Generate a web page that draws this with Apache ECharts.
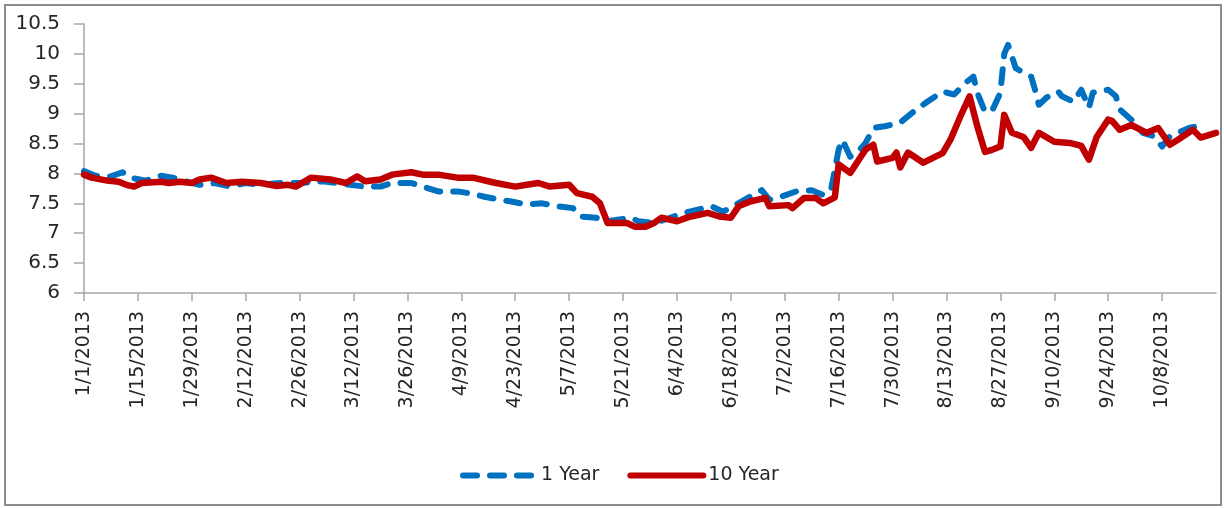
<!DOCTYPE html>
<html><head><meta charset="utf-8">
<script src="https://cdn.jsdelivr.net/npm/echarts@6/dist/echarts.min.js"></script>
<style>html,body{margin:0;padding:0;background:#fff}#c{width:1224px;height:508px}</style>
</head><body><div id="c"></div>
<script>
const startDate = '1/1/2013';
const endDate = '10/22/2013';
const yTicks = { min: 6, max: 10.5, step: 0.5 };

const dates10Y = ['1/1/2013','1/3/2013','1/7/2013','1/10/2013','1/12/2013','1/14/2013','1/16/2013','1/21/2013','1/23/2013','1/26/2013','1/29/2013','1/31/2013','2/3/2013','2/7/2013','2/11/2013','2/16/2013','2/20/2013','2/23/2013','2/25/2013','3/1/2013','3/6/2013','3/10/2013','3/13/2013','3/15/2013','3/19/2013','3/22/2013','3/27/2013','3/30/2013','4/3/2013','4/8/2013','4/12/2013','4/16/2013','4/18/2013','4/23/2013','4/26/2013','4/29/2013','5/2/2013','5/7/2013','5/9/2013','5/13/2013','5/15/2013','5/17/2013','5/22/2013','5/24/2013','5/27/2013','5/29/2013','5/31/2013','6/4/2013','6/7/2013','6/12/2013','6/15/2013','6/18/2013','6/20/2013','6/23/2013','6/27/2013','6/28/2013','7/3/2013','7/4/2013','7/7/2013','7/10/2013','7/12/2013','7/15/2013','7/16/2013','7/19/2013','7/23/2013','7/25/2013','7/26/2013','7/30/2013','7/31/2013','8/1/2013','8/3/2013','8/7/2013','8/12/2013','8/14/2013','8/17/2013','8/19/2013','8/21/2013','8/23/2013','8/25/2013','8/27/2013','8/28/2013','8/30/2013','9/2/2013','9/4/2013','9/6/2013','9/10/2013','9/14/2013','9/17/2013','9/19/2013','9/21/2013','9/24/2013','9/25/2013','9/27/2013','9/30/2013','10/4/2013','10/7/2013','10/10/2013','10/12/2013','10/16/2013','10/18/2013','10/22/2013'];
const values10Y = [7.98,7.93,7.88,7.86,7.81,7.78,7.84,7.86,7.84,7.86,7.84,7.9,7.93,7.84,7.86,7.84,7.79,7.81,7.78,7.93,7.9,7.84,7.95,7.87,7.9,7.98,8.02,7.98,7.98,7.93,7.93,7.87,7.84,7.78,7.81,7.84,7.78,7.81,7.67,7.61,7.5,7.17,7.17,7.11,7.11,7.17,7.26,7.2,7.27,7.34,7.28,7.26,7.45,7.53,7.59,7.45,7.47,7.42,7.59,7.59,7.5,7.6,8.15,8.01,8.4,8.48,8.2,8.26,8.35,8.1,8.35,8.18,8.34,8.56,9.01,9.29,8.79,8.36,8.4,8.45,8.98,8.68,8.61,8.43,8.68,8.53,8.51,8.46,8.23,8.61,8.9,8.88,8.73,8.81,8.68,8.76,8.48,8.56,8.73,8.6,8.68];

const dates1Y = ['1/1/2013','1/4/2013','1/8/2013','1/11/2013','1/13/2013','1/17/2013','1/21/2013','1/24/2013','1/28/2013','1/31/2013','2/4/2013','2/8/2013','2/12/2013','2/16/2013','2/21/2013','2/26/2013','3/4/2013','3/11/2013','3/15/2013','3/19/2013','3/22/2013','3/27/2013','3/31/2013','4/3/2013','4/8/2013','4/11/2013','4/15/2013','4/19/2013','4/22/2013','4/26/2013','4/30/2013','5/4/2013','5/8/2013','5/10/2013','5/14/2013','5/17/2013','5/23/2013','5/25/2013','5/29/2013','6/1/2013','6/6/2013','6/13/2013','6/16/2013','6/26/2013','6/28/2013','7/1/2013','7/5/2013','7/9/2013','7/12/2013','7/14/2013','7/16/2013','7/17/2013','7/19/2013','7/21/2013','7/23/2013','7/25/2013','7/28/2013','8/1/2013','8/4/2013','8/8/2013','8/12/2013','8/15/2013','8/18/2013','8/20/2013','8/21/2013','8/23/2013','8/25/2013','8/27/2013','8/28/2013','8/29/2013','8/31/2013','9/4/2013','9/5/2013','9/6/2013','9/8/2013','9/11/2013','9/12/2013','9/15/2013','9/17/2013','9/19/2013','9/20/2013','9/24/2013','9/26/2013','9/27/2013','9/30/2013','10/3/2013','10/6/2013','10/8/2013','10/10/2013','10/15/2013','10/17/2013','10/18/2013'];
const values1Y = [8.04,7.96,7.95,8.02,7.93,7.88,7.96,7.93,7.86,7.81,7.84,7.78,7.84,7.81,7.84,7.84,7.87,7.81,7.78,7.78,7.84,7.84,7.76,7.7,7.7,7.67,7.61,7.56,7.53,7.48,7.5,7.45,7.42,7.28,7.26,7.2,7.26,7.2,7.17,7.23,7.34,7.45,7.36,7.72,7.56,7.61,7.7,7.72,7.64,7.72,8.4,8.56,8.28,8.36,8.51,8.76,8.79,8.85,9.01,9.2,9.37,9.32,9.52,9.62,9.35,9.03,9.07,9.35,10.0,10.15,9.76,9.62,9.4,9.15,9.27,9.37,9.29,9.2,9.4,9.1,9.35,9.4,9.29,9.07,8.9,8.68,8.62,8.45,8.62,8.76,8.79,8.8];

const seriesNames = ['1 Year', '10 Year'];

function parseMDY(s){ const p = s.split('/').map(Number); return Date.UTC(p[2], p[0]-1, p[1]); }
const DAY = 86400000;
const t0 = parseMDY(startDate);
function dayIdx(s){ return Math.round((parseMDY(s) - t0) / DAY); }
function fmtDay(d){ const dt = new Date(t0 + d*DAY); return (dt.getUTCMonth()+1) + '/' + dt.getUTCDate() + '/' + dt.getUTCFullYear(); }

const data1Y = dates1Y.map((d,i)=>[dayIdx(d), values1Y[i]]);
const data10Y = dates10Y.map((d,i)=>[dayIdx(d), values10Y[i]]);
const xMax = dayIdx(endDate);

const FONT = 'DejaVu Sans';
const TXT = '#262626';
const chart = echarts.init(document.getElementById('c'), null, {renderer:'canvas'});
chart.setOption({
  animation: false,
  backgroundColor: '#fff',
  graphic: [{
    type: 'rect', shape: {x: 5, y: 5, width: 1216, height: 500},
    style: {fill: 'none', stroke: '#8c8c8c', lineWidth: 2}, silent: true, z: -1
  }],
  grid: { left: 84, right: 8, top: 24, bottom: 215, containLabel: false },
  xAxis: {
    type: 'value', min: 0, max: xMax, interval: 14,
    splitLine: { show: false },
    axisLine: { lineStyle: { color: '#a6a6a6', width: 1.5 } },
    axisTick: { show: true, length: 8, lineStyle: { color: '#a6a6a6', width: 1.5 } },
    axisLabel: {
      rotate: 90, margin: 18, showMaxLabel: false,
      fontFamily: FONT, fontSize: 19, color: TXT,
      formatter: v => fmtDay(v)
    }
  },
  yAxis: {
    type: 'value', min: yTicks.min, max: yTicks.max, interval: yTicks.step,
    splitLine: { show: false },
    axisLine: { show: true, lineStyle: { color: '#a6a6a6', width: 1.5 } },
    axisTick: { show: true, length: 10, lineStyle: { color: '#a6a6a6', width: 1.5 } },
    axisLabel: { margin: 24, fontFamily: FONT, fontSize: 20, color: TXT }
  },
  legend: {
    left: 455, top: 461,
    itemWidth: 73, itemHeight: 14, itemGap: 28,
    itemStyle: { opacity: 0 },
    lineStyle: { width: 6, cap: 'round' },
    textStyle: { fontFamily: FONT, fontSize: 19, color: TXT },
    data: seriesNames
  },
  series: [
    { name: seriesNames[0], type: 'line', data: data1Y, symbol: 'none', smooth: false,
      lineStyle: { color: '#0070C0', width: 6, type: [14, 13], cap: 'round', join: 'round' },
      itemStyle: { color: '#0070C0' }, z: 2 },
    { name: seriesNames[1], type: 'line', data: data10Y, symbol: 'none', smooth: false,
      lineStyle: { color: '#C00000', width: 6.5, cap: 'round', join: 'round' },
      itemStyle: { color: '#C00000' }, z: 3 }
  ]
});
</script></body></html>
